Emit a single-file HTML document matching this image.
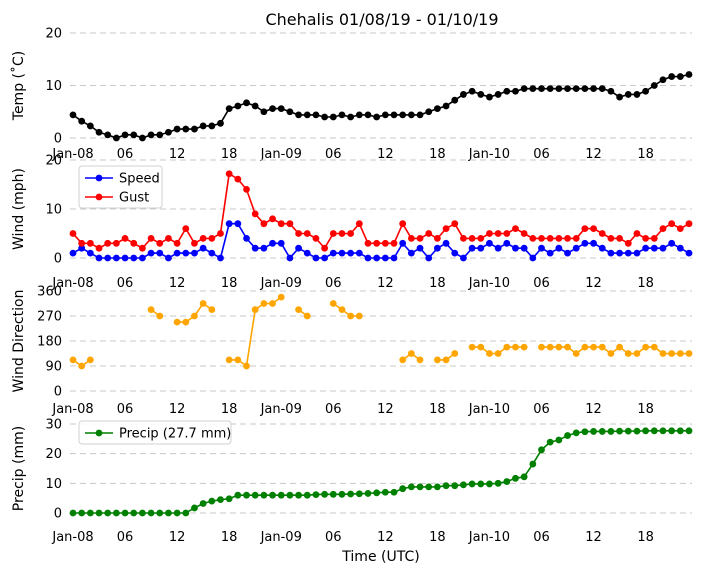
<!DOCTYPE html>
<html><head><meta charset="utf-8"><style>
body{margin:0;background:#fff;}
svg{display:block;font-family:"DejaVu Sans","Liberation Sans",sans-serif;}
</style></head><body>
<svg id="chart" width="704" height="573"></svg>
<script>
const hours = Array.from({length:72},(_,i)=>i);
const tickLabels = ["Jan-08","06","12","18","Jan-09","06","12","18","Jan-10","06","12","18"];
const tickHours = [0,6,12,18,24,30,36,42,48,54,60,66];
const temp = [4.4,3.2,2.3,1.1,0.6,0,0.6,0.6,0,0.6,0.6,1.1,1.7,1.7,1.7,2.3,2.3,2.8,5.6,6.1,6.7,6.1,5,5.6,5.6,5,4.4,4.4,4.4,4,4,4.4,4,4.4,4.4,4,4.4,4.4,4.4,4.4,4.4,5,5.6,6.1,7.2,8.3,8.9,8.3,7.8,8.3,8.9,8.9,9.4,9.4,9.4,9.4,9.4,9.4,9.4,9.4,9.4,9.4,8.9,7.8,8.3,8.3,8.9,10,11.1,11.7,11.7,12.1];
const speed = [1,2,1,0,0,0,0,0,0,1,1,0,1,1,1,2,1,0,7,7,4,2,2,3,3,0,2,1,0,0,1,1,1,1,0,0,0,0,3,1,2,0,2,3,1,0,2,2,3,2,3,2,2,0,2,1,2,1,2,3,3,2,1,1,1,1,2,2,2,3,2,1];
const gust = [5,3,3,2,3,3,4,3,2,4,3,4,3,6,3,4,4,5,17.2,16.1,14,9,7,8,7,7,5,5,4,2,5,5,5,7,3,3,3,3,7,4,4,5,4,6,7,4,4,4,5,5,5,6,5,4,4,4,4,4,4,6,6,5,4,4,3,5,4,4,6,7,6,7];
const dir = [112,90,112,null,null,null,null,null,null,293,270,null,248,248,270,315,293,null,112,112,90,293,315,315,338,null,293,270,null,null,315,293,270,270,null,null,null,null,112,135,112,null,112,112,135,null,158,158,135,135,158,158,158,null,158,158,158,158,135,158,158,158,135,158,135,135,158,158,135,135,135,135];
const precip = [0,0,0,0,0,0,0,0,0,0,0,0,0,0,1.7,3.2,4,4.5,4.8,6,6,6,6,6,6,6,6,6,6.2,6.3,6.3,6.3,6.4,6.5,6.6,6.8,7,7,8.2,8.8,8.8,8.8,8.8,9.2,9.2,9.5,9.8,9.8,9.8,10,10.6,11.7,12.2,16.5,21.3,23.9,24.6,26.1,27,27.4,27.5,27.5,27.5,27.6,27.6,27.6,27.7,27.7,27.7,27.7,27.7,27.7];

const NS="http://www.w3.org/2000/svg";
const svg=document.getElementById('chart');
function mk(tag,attrs,parent){const e=document.createElementNS(NS,tag);for(const k in attrs)e.setAttribute(k,attrs[k]);(parent||svg).appendChild(e);return e;}
const X0=73,X1=689;
const xs=h=>X0+(X1-X0)*h/71;

const panels=[
 {name:'temp',top:33,bottom:138,max:20,ticks:[0,10,20],label:'Temp ($^\\circ$C)',ylab:'Temp (˚C)',xlabY:158},
 {name:'wind',top:160,bottom:258,max:20,ticks:[0,10,20],ylab:'Wind (mph)',xlabY:287},
 {name:'direction',top:291,bottom:391,max:360,ticks:[0,90,180,270,360],ylab:'Wind Direction',xlabY:413},
 {name:'precip',top:424,bottom:513,max:30,ticks:[0,10,20,30],ylab:'Precip (mm)',xlabY:541}
];
panels.forEach(p=>{
 p.y=v=>p.bottom-(p.bottom-p.top)*v/p.max;
 const g=mk('g',{});
 
 
 p.ticks.forEach(t=>{
  const gl=mk('line',{x1:70,x2:692,y1:p.y(t),y2:p.y(t),stroke:'#c8c8c8','stroke-width':1,'stroke-dasharray':'6,4'},g);
  
  
  const tl=mk('text',{x:62,y:p.y(t)+4.5,'text-anchor':'end','font-size':13,fill:'#000'},g);
  tl.textContent=t;
  
  
 });
 tickHours.forEach((h,i)=>{
  const tl=mk('text',{x:xs(h),y:p.xlabY,'text-anchor':'middle','font-size':13,fill:'#000'},g);
  tl.textContent=tickLabels[i];
  
  
 });
 const cy=(p.top+p.bottom)/2;
 const yl=mk('text',{x:23,y:cy,'text-anchor':'middle','font-size':14,transform:`rotate(-90 23 ${cy})`},g);
 yl.textContent=p.ylab;
 
 
});

function series(p,vals,color,name){
 const g=mk('g',{});
 
 
 let d='',pen=false;
 vals.forEach((v,i)=>{
  if(v===null){pen=false;return;}
  d+=(pen?'L':'M')+xs(hours[i])+','+p.y(v);pen=true;
 });
 mk('path',{d:d,fill:'none',stroke:color,'stroke-width':1.6},g);
 vals.forEach((v,i)=>{
  if(v===null)return;
  const c=mk('circle',{cx:xs(hours[i]),cy:p.y(v),r:3.4,fill:color},g);
  
  
 });
}
series(panels[0],temp,'#000','temperature');
series(panels[1],speed,'#0000ff','speed');
series(panels[1],gust,'#ff0000','gust');
series(panels[2],dir,'#ffa500','direction');
series(panels[3],precip,'#008000','precip');

function legend(x,y,w,h,items,name){
 const g=mk('g',{});
 
 
 mk('rect',{x:x,y:y,width:w,height:h,rx:3,fill:'#fff','fill-opacity':0.85,stroke:'#d0d0d0'},g);
 items.forEach((it,i)=>{
  const yy=y+12+i*19;
  mk('line',{x1:x+6,x2:x+34,y1:yy,y2:yy,stroke:it[1],'stroke-width':1.6},g);
  mk('circle',{cx:x+20,cy:yy,r:3.4,fill:it[1]},g);
  const t=mk('text',{x:x+40,y:yy+4.5,'font-size':13},g);
  t.textContent=it[0];
  
  
 });
}
legend(79,166,83,42,[['Speed','#0000ff'],['Gust','#ff0000']],'wind-legend');
legend(79,421,152,23,[['Precip (27.7 mm)','#008000']],'precip-legend');

const title=mk('text',{x:382,y:25,'text-anchor':'middle','font-size':16});
title.textContent='Chehalis 01/08/19 - 01/10/19';


const xt=mk('text',{x:381,y:561,'text-anchor':'middle','font-size':14});
xt.textContent='Time (UTC)';


</script>
</body></html>
